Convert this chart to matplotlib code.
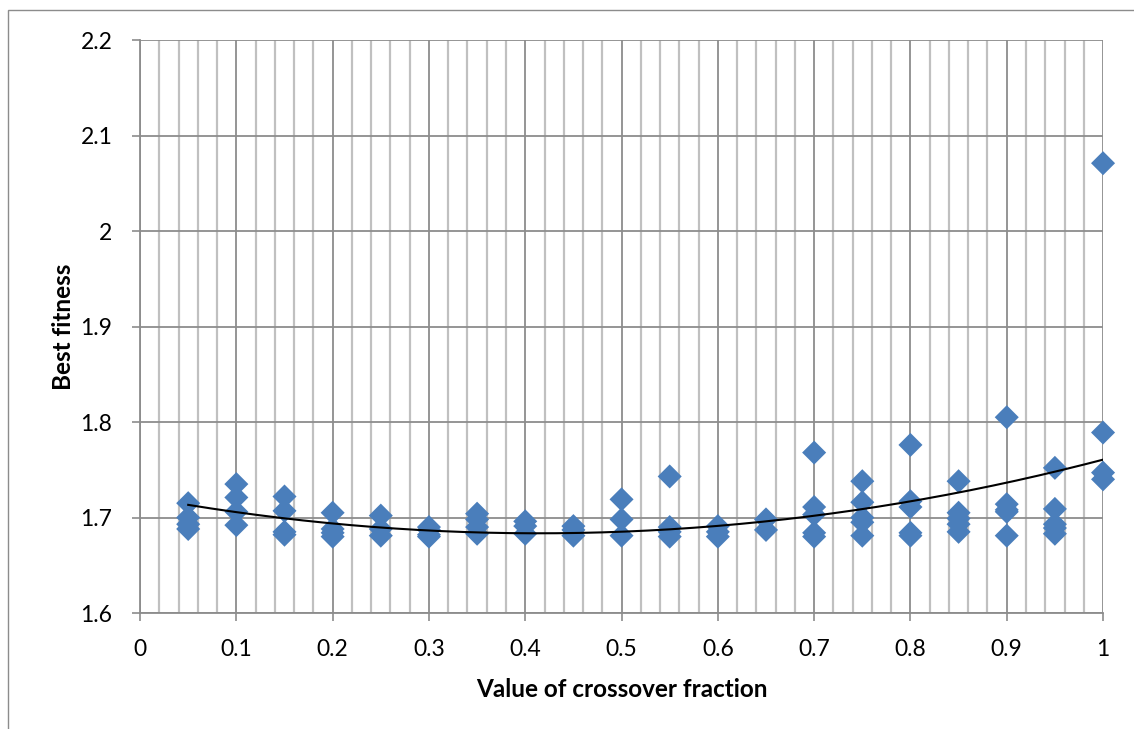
import numpy as np
import matplotlib
matplotlib.use("Agg")
import matplotlib.pyplot as plt
from matplotlib.patches import Rectangle

plt.rcParams['font.family'] = ['Lato', 'DejaVu Sans']

# Data (crossover fraction -> best fitness values of repeated runs)
x_values = [0.05, 0.1, 0.15, 0.2, 0.25, 0.3, 0.35, 0.4, 0.45, 0.5,
            0.55, 0.6, 0.65, 0.7, 0.75, 0.8, 0.85, 0.9, 0.95, 1.0]
fitness_runs = [
    [1.715, 1.700, 1.693, 1.688],
    [1.735, 1.721, 1.706, 1.692],
    [1.722, 1.707, 1.685, 1.682],
    [1.705, 1.688, 1.684, 1.680],
    [1.702, 1.688, 1.681],
    [1.690, 1.687, 1.682, 1.680],
    [1.704, 1.698, 1.690, 1.683],
    [1.696, 1.691, 1.683],
    [1.691, 1.687, 1.681],
    [1.719, 1.698, 1.681],
    [1.743, 1.690, 1.685, 1.680],
    [1.691, 1.685, 1.680],
    [1.698, 1.687],
    [1.768, 1.711, 1.703, 1.684, 1.680],
    [1.738, 1.716, 1.700, 1.695, 1.681],
    [1.776, 1.717, 1.711, 1.684, 1.681],
    [1.738, 1.705, 1.699, 1.693, 1.685],
    [1.805, 1.714, 1.708, 1.706, 1.681],
    [1.752, 1.709, 1.693, 1.689, 1.683],
    [2.071, 1.789, 1.747, 1.740],
]
x_ticks = [0, 0.1, 0.2, 0.3, 0.4, 0.5, 0.6, 0.7, 0.8, 0.9, 1]
x_tick_labels = ['0', '0.1', '0.2', '0.3', '0.4', '0.5', '0.6', '0.7', '0.8', '0.9', '1']
y_ticks = [1.6, 1.7, 1.8, 1.9, 2.0, 2.1, 2.2]
y_tick_labels = ['1.6', '1.7', '1.8', '1.9', '2', '2.1', '2.2']

xs = np.concatenate([[x] * len(r) for x, r in zip(x_values, fitness_runs)])
ys = np.concatenate(fitness_runs)

fig = plt.figure(figsize=(11.34, 7.29), dpi=100)
ax = fig.add_axes([0.1235, 0.1591, 0.8492, 0.786])

# outer chart border
fig.patches.append(Rectangle((8 / 1134, -0.1), 1.2, 1 - 10 / 729 + 0.1,
                             transform=fig.transFigure, fill=False,
                             edgecolor='#8c8c8c', linewidth=1.0))

ax.set_xlim(0, 1)
ax.set_ylim(1.6, 2.2)
ax.set_xticks(x_ticks)
ax.set_xticklabels(x_tick_labels)
ax.set_yticks(y_ticks)
ax.set_yticklabels(y_tick_labels)
ax.set_xticks(np.arange(0, 1.0001, 0.02), minor=True)

ax.grid(True, which='minor', axis='x', color='#c0c0c0', linewidth=1.6, zorder=0)
ax.grid(True, which='major', axis='x', color='#8c8c8c', linewidth=1.3, zorder=0)
ax.grid(True, which='major', axis='y', color='#8c8c8c', linewidth=1.3, zorder=0)
ax.set_axisbelow(True)

for s in ['top', 'right']:
    ax.spines[s].set_visible(False)
for s in ['left', 'bottom']:
    ax.spines[s].set_color('#8c8c8c')
    ax.spines[s].set_linewidth(1.3)

ax.tick_params(axis='both', which='major', direction='out', length=6, width=1.2,
               color='#8c8c8c', labelsize=16.5, labelcolor='black')
ax.tick_params(axis='x', which='major', pad=13)
ax.tick_params(axis='y', which='major', pad=14)
ax.tick_params(axis='x', which='minor', length=0)

ax.scatter(xs, ys, marker='D', s=150, color='#4A7EBB', edgecolors='none', zorder=3,
           clip_on=False)

coef = np.polyfit(xs, ys, 2)
xt = np.linspace(min(x_values), max(x_values), 200)
ax.plot(xt, np.polyval(coef, xt), color='black', linewidth=1.5, zorder=4)

ax.set_xlabel('Value of crossover fraction', fontsize=17.5, fontweight='bold', labelpad=13)
ax.set_ylabel('Best fitness', fontsize=17.5, fontweight='bold', labelpad=4)

fig.savefig('out.png', dpi=100)
